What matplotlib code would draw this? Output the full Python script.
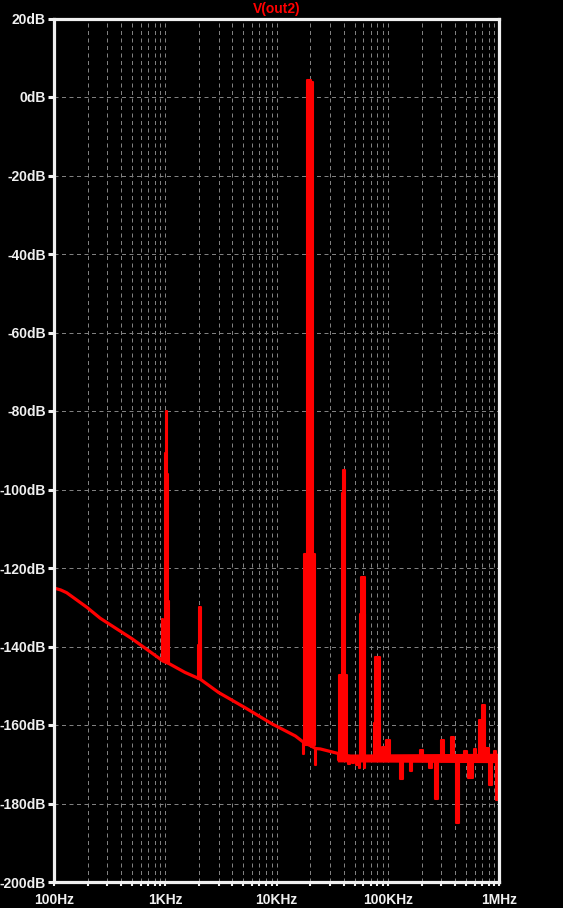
import numpy as np
import matplotlib
matplotlib.use('Agg')
import matplotlib.pyplot as plt
from matplotlib.ticker import LogLocator, NullFormatter, FixedLocator

RED = '#ff0000'
WHITE = '#f0f0f0'
GRID = '#808080'

# noise floor of the FFT trace (Hz, dB)
floor_freq = [100, 115, 130, 197, 260, 500, 900, 950, 1085, 1500, 2050, 3000, 5200,
              9050, 14700, 16850, 17300, 22400, 24600, 37300, 50000, 1000000]
floor_db = [-125.1, -125.6, -126.3, -130.0, -132.8, -138.0, -143.2, -143.7, -144.4,
            -146.6, -148.3, -151.7, -155.6, -159.7, -162.8, -164.1, -164.3, -166.0,
            -166.1, -167.4, -168.3, -168.3]

# thicker noisy band of the floor at high frequency
band_freq = [35000, 1000000]
band_lo = [-169.4, -169.6]
band_hi = [-167.4, -167.2]

# spectral lines: start freq, end freq, level (dB); drawn from the floor to the level
spike_f0 = [940, 992, 1008, 1028, 1052,
            1950, 1985,
            17130, 17600, 18700, 20300, 22200,
            36400, 38600, 39100,
            55500, 57500, 55000, 60500,
            74200, 75700,
            88000, 96500,
            127000, 156300, 195000, 235000, 266000, 301000, 370000, 411000, 478000,
            519000, 588000, 661000, 703000, 764000, 813000, 889000, 927000, 993000,
            35300, 44000, 47500, 52000]
spike_f1 = [958, 1012, 1030, 1052, 1085,
            2080, 2075,
            17490, 22200, 20300, 21000, 22700,
            42600, 39100, 41300,
            62100, 61500, 56000, 61800,
            85000, 83900,
            94000, 103000,
            136200, 164100, 206000, 248000, 279000, 316000, 388000, 435000, 512000,
            580000, 617000, 689000, 743000, 808000, 860000, 927000, 993000, 1000000,
            36200, 45500, 49000, 53500]
spike_db = [-133.0, -90.6, -80.0, -96.0, -128.4,
            -139.5, -130.0,
            -167.4, -116.5, 4.4, 3.9, -170.2,
            -147.2, -100.8, -95.0,
            -131.7, -122.3, -171.0, -171.0,
            -159.4, -142.6,
            -165.6, -163.8,
            -173.8, -171.6, -166.4, -171.0, -178.8, -163.8, -163.0, -185.0, -166.6,
            -173.5, -166.0, -158.7, -154.9, -165.8, -175.3, -166.6, -179.0, -165.5,
            -168.9, -170.0, -169.8, -170.2]

y_ticks = list(range(-200, 21, 20))
x_ticks = [100, 1000, 10000, 100000, 1000000]
x_labels = ['100Hz', '1KHz', '10KHz', '100KHz', '1MHz']

plt.rcParams['font.family'] = ['Liberation Sans', 'DejaVu Sans']

fig = plt.figure(figsize=(5.63, 9.08), dpi=100, facecolor='black')
ax = fig.add_axes([54 / 563, 26 / 908, 445.5 / 563, 863.5 / 908])
ax.set_facecolor('black')

ax.set_xscale('log')
ax.set_xlim(100, 1e6)
ax.set_ylim(-200, 20)

# grid first so the trace lies over it
ax.xaxis.set_major_locator(FixedLocator(x_ticks))
ax.xaxis.set_minor_locator(LogLocator(base=10, subs=range(2, 10)))
ax.xaxis.set_minor_formatter(NullFormatter())
ax.set_xticklabels(x_labels)
ax.set_yticks(y_ticks)
ax.set_yticklabels([f'{v}dB' for v in y_ticks])
ax.set_axisbelow(True)
ax.grid(which='both', axis='x', color=GRID, linewidth=0.72, linestyle=(0, (4, 3.5)))
ax.grid(which='major', axis='y', color=GRID, linewidth=0.72, linestyle=(0, (4, 3.5)))

# trace
lf = np.log10(floor_freq)
ax.fill_between(band_freq, band_lo, band_hi, color=RED, linewidth=0)
for f0, f1, lvl in zip(spike_f0, spike_f1, spike_db):
    base = np.interp(np.log10(np.sqrt(f0 * f1)), lf, floor_db)
    lo, hi = min(base, lvl), max(base, lvl)
    ax.fill_between([f0, f1], [lo, lo], [hi, hi], color=RED, linewidth=1.5)
ax.plot(floor_freq, floor_db, color=RED, linewidth=2.3, solid_joinstyle='round')

for s in ax.spines.values():
    s.set_color(WHITE)
    s.set_linewidth(2.3)

ax.tick_params(axis='y', which='major', direction='out', length=4.5, width=2.2,
               color=WHITE, labelcolor=WHITE, pad=1.5, labelsize=10)
ax.tick_params(axis='x', which='both', direction='out', length=3, width=1.5,
               color=WHITE, labelcolor=WHITE, pad=5, labelsize=10)
for lab in ax.get_xticklabels() + ax.get_yticklabels():
    lab.set_fontweight('bold')

fig.text(276.5 / 563, 1 - 9.5 / 908, 'V(out2)', color=RED, ha='center', va='center',
         fontsize=10, fontweight='bold')

fig.savefig('out.png', dpi=100, facecolor='black')
plt.close()
